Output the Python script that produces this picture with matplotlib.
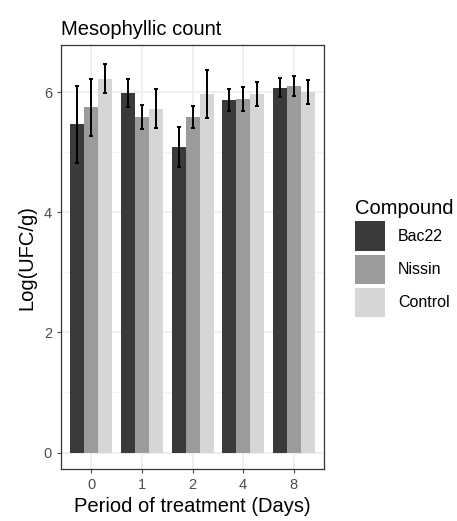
import matplotlib.pyplot as plt
import numpy as np
from matplotlib.patches import Patch

plt.rcParams['font.family'] = ['Liberation Sans', 'DejaVu Sans']

# dados
dias = ["0", "1", "2", "4", "8"]
compostos = ["Bac22", "Nissin", "Control"]
cores = ["#3a3a3a", "#9b9b9b", "#d6d6d6"]

bac22 = [5.47, 5.99, 5.09, 5.87, 6.08]
nissin = [5.75, 5.59, 5.59, 5.89, 6.11]
control = [6.23, 5.73, 5.97, 5.97, 6.00]

bac22_sd = [0.64, 0.24, 0.33, 0.18, 0.16]
nissin_sd = [0.47, 0.20, 0.19, 0.20, 0.17]
control_sd = [0.24, 0.32, 0.40, 0.20, 0.20]

medias = [bac22, nissin, control]
erros = [bac22_sd, nissin_sd, control_sd]

fig = plt.figure(figsize=(4.57, 5.21), dpi=100)
ax = fig.add_axes([0.1335, 0.0992, 0.5755, 0.8144])

x = np.arange(len(dias))
largura = 0.83 / 3

# grade estilo theme_bw
for yv in [1, 3, 5]:
    ax.axhline(yv, color='#f2f2f2', linewidth=0.6, zorder=0)
for yv in [0, 2, 4, 6]:
    ax.axhline(yv, color='#ebebeb', linewidth=1.1, zorder=0)
for xv in x:
    ax.axvline(xv, color='#ebebeb', linewidth=1.1, zorder=0)

for i, (m, e) in enumerate(zip(medias, erros)):
    pos = x + (i - 1) * largura
    ax.bar(pos, m, width=largura, color=cores[i], zorder=2)
    ax.errorbar(pos, m, yerr=e, fmt='none', ecolor='black', elinewidth=1.4,
                capsize=1.6, capthick=1.4, zorder=3)

ax.set_xlim(-0.6, 4.6)
ax.set_ylim(-0.28, 6.79)
ax.set_xticks(x)
ax.set_xticklabels(dias)
ax.set_yticks([0, 2, 4, 6])
ax.tick_params(axis='both', colors='#4d4d4d', labelsize=10.5, length=3, width=0.8,
               labelcolor='#4d4d4d')
for s in ax.spines.values():
    s.set_color('#333333')
    s.set_linewidth(0.9)

ax.set_xlabel("Period of treatment (Days)", fontsize=14.5, labelpad=3)
ax.set_ylabel("Log(UFC/g)", fontsize=14.5, labelpad=5)
ax.set_title("Mesophyllic count", fontsize=14.5, loc='left', pad=7)

handles = [Patch(facecolor=c, edgecolor='none') for c in cores]
fig.legend(handles, compostos, title="Compound", loc='upper left',
           bbox_to_anchor=(0.777, 0.619), frameon=False, fontsize=11.5,
           title_fontsize=14.5, handlelength=1.88, handleheight=2.42,
           labelspacing=0.25, handletextpad=0.8, alignment='left',
           borderpad=0, borderaxespad=0)

fig.savefig("out.png", dpi=100)
